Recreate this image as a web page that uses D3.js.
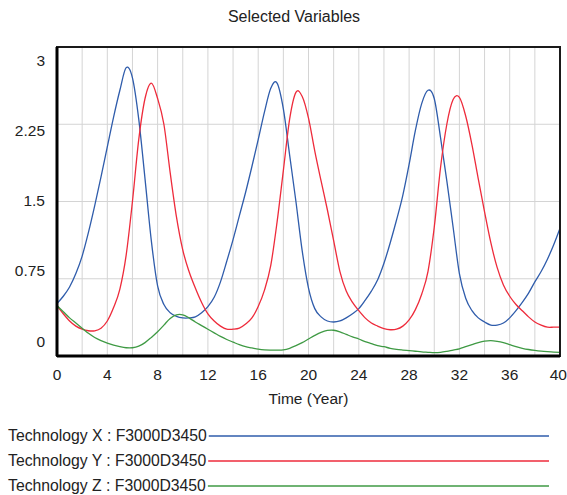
<!DOCTYPE html>
<html>
<head>
<meta charset="utf-8">
<script src="https://cdn.jsdelivr.net/npm/d3@7"></script>
<style>
  body { margin: 0; background: #fff; }
  svg { font-family: "Liberation Sans", Arial, sans-serif; }
</style>
</head>
<body>
<div id="main"></div>
<script>
// time axis, half-year steps
var years = d3.range(0, 40.5, 0.5);

var techX = [0.51,0.58,0.67,0.80,0.97,1.20,1.46,1.74,2.03,2.32,
    2.58,2.80,2.70,2.30,1.72,1.12,0.68,0.50,0.42,0.385,
    0.37,0.37,0.38,0.42,0.48,0.57,0.72,0.92,1.13,1.36,
    1.59,1.84,2.10,2.37,2.60,2.65,2.40,1.95,1.50,1.02,
    0.66,0.46,0.38,0.34,0.33,0.34,0.37,0.41,0.46,0.54,
    0.63,0.74,0.90,1.10,1.32,1.56,1.86,2.19,2.45,2.58,
    2.50,2.12,1.70,1.25,0.80,0.56,0.44,0.37,0.33,0.30,
    0.30,0.32,0.37,0.44,0.52,0.61,0.72,0.82,0.94,1.08,1.24];

var techY = [0.49,0.41,0.34,0.29,0.26,0.245,0.245,0.27,0.34,0.47,
    0.65,0.98,1.50,2.10,2.50,2.65,2.50,2.25,1.78,1.35,
    1.03,0.82,0.66,0.52,0.41,0.34,0.29,0.26,0.26,0.27,
    0.31,0.37,0.48,0.64,0.88,1.30,1.80,2.30,2.56,2.52,
    2.31,1.99,1.70,1.42,1.12,0.82,0.63,0.52,0.44,0.37,
    0.32,0.29,0.265,0.255,0.26,0.29,0.35,0.45,0.60,0.82,
    1.25,1.83,2.25,2.49,2.51,2.33,2.05,1.72,1.40,1.10,
    0.86,0.69,0.58,0.50,0.44,0.38,0.33,0.30,0.28,0.28,0.28];

var techZ = [0.49,0.43,0.37,0.32,0.27,0.22,0.18,0.15,0.125,0.105,
    0.09,0.08,0.08,0.095,0.13,0.18,0.235,0.30,0.365,0.40,
    0.40,0.37,0.33,0.295,0.26,0.225,0.19,0.16,0.135,0.11,
    0.09,0.078,0.066,0.059,0.057,0.057,0.06,0.075,0.10,0.13,
    0.165,0.20,0.23,0.248,0.25,0.235,0.21,0.185,0.165,0.14,
    0.12,0.10,0.09,0.075,0.065,0.058,0.052,0.046,0.04,0.036,
    0.032,0.035,0.045,0.058,0.07,0.09,0.11,0.13,0.145,0.15,
    0.143,0.13,0.11,0.09,0.075,0.063,0.054,0.047,0.042,0.038,0.036];

var seriesNames = ["Technology X : F3000D3450", "Technology Y : F3000D3450", "Technology Z : F3000D3450"];
var seriesColors = ["#2f5cab", "#ee2b3b", "#3f9a44"];
var xTicks = [0, 4, 8, 12, 16, 20, 24, 28, 32, 36, 40];
var yTicks = [0, 0.75, 1.5, 2.25, 3];

var ctx = {
    w: 567,
    h: 495,
    margin: { top: 47, right: 7, bottom: 139, left: 57 },
};

var createViz = function () {
    var svg = d3.select("#main").append("svg")
        .attr("width", ctx.w)
        .attr("height", ctx.h);
    svg.append("rect").attr("width", ctx.w).attr("height", ctx.h).attr("fill", "#fff");

    var pw = ctx.w - ctx.margin.left - ctx.margin.right;
    var ph = ctx.h - ctx.margin.top - ctx.margin.bottom;

    var x = d3.scaleLinear().domain([0, 40]).range([0, pw]);
    var y = d3.scaleLinear().domain([0, 3]).range([ph, 0]);
    // Vensim spreads the value labels a little inside the frame
    var yLab = y.copy().range([ph - 14.5, 13.5]);

    svg.append("text")
        .attr("x", 294)
        .attr("y", 22)
        .attr("text-anchor", "middle")
        .style("font-size", "16px")
        .style("fill", "#222")
        .text("Selected Variables");

    var g = svg.append("g")
        .attr("transform", "translate(" + ctx.margin.left + "," + ctx.margin.top + ")");

    // grid
    g.selectAll("line.vg")
        .data(d3.range(2, 40, 2))
        .enter().append("line")
        .attr("x1", d => x(d)).attr("x2", d => x(d))
        .attr("y1", 0).attr("y2", ph)
        .attr("stroke", "#d4d4d4").attr("stroke-width", 1);
    g.selectAll("line.hg")
        .data([0.75, 1.5, 2.25])
        .enter().append("line")
        .attr("x1", 0).attr("x2", pw)
        .attr("y1", d => y(d)).attr("y2", d => y(d))
        .attr("stroke", "#d4d4d4").attr("stroke-width", 1);

    var series = [techX, techY, techZ];
    var line = d3.line()
        .x((d, i) => x(years[i]))
        .y(d => y(d))
        .curve(d3.curveCatmullRom.alpha(0));

    g.selectAll("path.s")
        .data(series)
        .enter().append("path")
        .attr("d", line)
        .attr("fill", "none")
        .attr("stroke", (d, i) => seriesColors[i])
        .attr("stroke-width", 1.3);

    // frame
    g.append("rect")
        .attr("width", pw).attr("height", ph)
        .attr("fill", "none")
        .attr("stroke", "#1a1a1a").attr("stroke-width", 2);
    g.append("line").attr("x1", 0).attr("x2", 0).attr("y1", 0).attr("y2", ph)
        .attr("stroke", "#000").attr("stroke-width", 3);
    g.append("line").attr("x1", 0).attr("x2", pw).attr("y1", ph).attr("y2", ph)
        .attr("stroke", "#000").attr("stroke-width", 3);

    // axes labels (last one kept inside the page)
    g.selectAll("text.xt")
        .data(xTicks)
        .enter().append("text")
        .attr("x", d => d === 40 ? x(d) + 7 : x(d))
        .attr("y", ph + 24)
        .attr("text-anchor", d => d === 40 ? "end" : "middle")
        .style("font-size", "15.5px")
        .style("fill", "#222")
        .text(d => d);
    g.selectAll("text.yt")
        .data(yTicks)
        .enter().append("text")
        .attr("x", -12)
        .attr("y", d => yLab(d) + 5)
        .attr("text-anchor", "end")
        .style("font-size", "15.5px")
        .style("fill", "#222")
        .text(d => d);
    g.append("text")
        .attr("x", pw / 2)
        .attr("y", ph + 48)
        .attr("text-anchor", "middle")
        .style("font-size", "15.5px")
        .style("fill", "#222")
        .text("Time (Year)");

    // legend
    var leg = svg.selectAll("g.leg")
        .data(seriesNames)
        .enter().append("g")
        .attr("transform", (d, i) => "translate(8," + (436 + i * 25) + ")");
    leg.append("text")
        .attr("y", 4.5)
        .style("font-size", "15.75px")
        .style("fill", "#222")
        .text(d => d);
    leg.each(function (d, i) {
        var tw = d3.select(this).select("text").node().getComputedTextLength();
        d3.select(this).append("line")
            .attr("x1", tw + 2).attr("x2", 541)
            .attr("y1", 0).attr("y2", 0)
            .attr("stroke", seriesColors[i]).attr("stroke-width", 1.5);
    });
};

createViz();
</script>
</body>
</html>
